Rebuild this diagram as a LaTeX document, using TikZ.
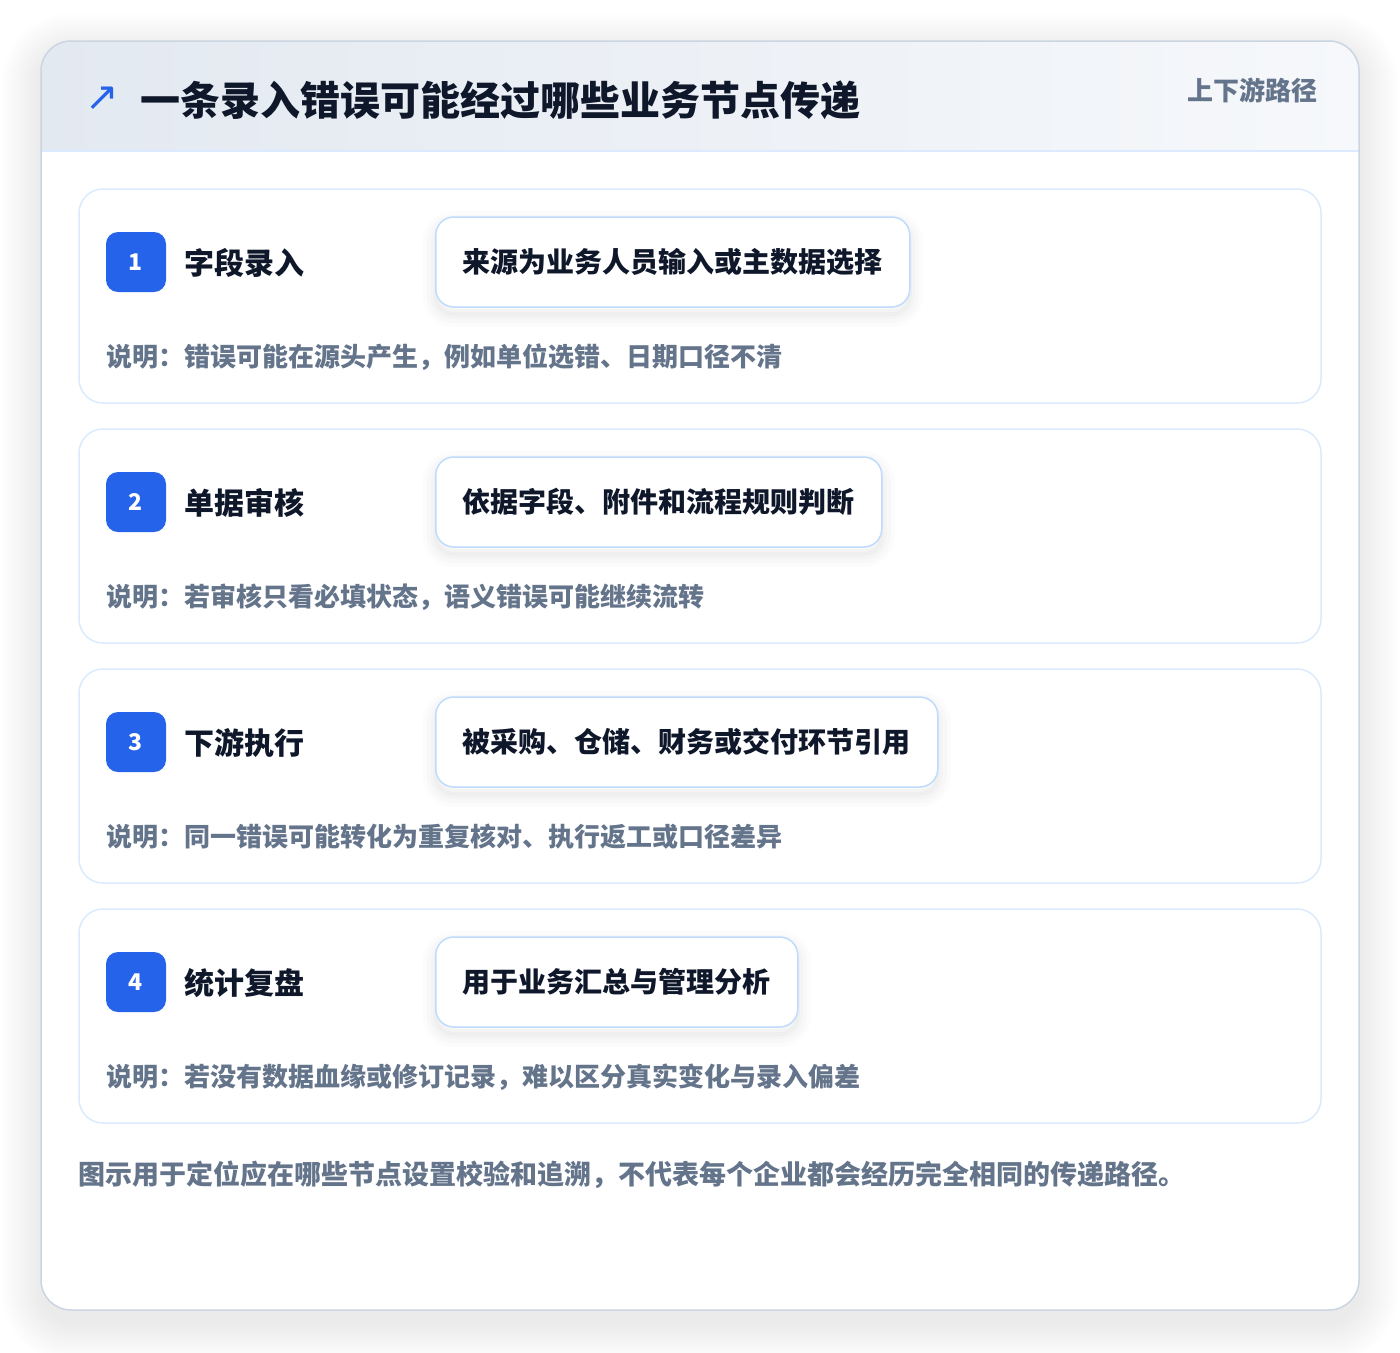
\documentclass[tikz,border=0pt]{standalone}
\usepackage{fontspec}
\setmainfont{Noto Sans CJK SC}
\newfontfamily\symb{DejaVu Sans}
\definecolor{ink}{HTML}{0F172A}
\definecolor{muted}{HTML}{64748B}
\definecolor{accent}{HTML}{2563EB}
\definecolor{cardline}{HTML}{CBD5E1}
\definecolor{stepline}{HTML}{DBEAFE}
\definecolor{srcline}{HTML}{BFDBFE}
\definecolor{bandl}{HTML}{E3E9F1}
\definecolor{bandr}{HTML}{F6F8FB}
\tikzset{
	haze/.style 2 args={preaction={draw=black, draw opacity=#2, line width=#1, transform canvas={yshift=-7pt}}},
	badge/.style={fill=accent, rounded corners=12, minimum size=60, inner sep=0, text=white, font=\fontsize{23}{23}\selectfont\bfseries},
	steplabel/.style={anchor=west, inner sep=0, text=ink, font=\fontsize{30}{30}\selectfont\bfseries},
	srcbox/.style={anchor=west, draw=srcline, line width=1.5, fill=white, rounded corners=18, minimum height=90, inner xsep=27, text=ink, font=\fontsize{28}{28}\selectfont\bfseries,
		haze={26}{0.012}, haze={18}{0.014}, haze={10}{0.016}, haze={4}{0.02}},
	notetext/.style={anchor=west, inner sep=0, text=muted, font=\fontsize{26}{26}\selectfont\bfseries},
}
\begin{document}
\begin{tikzpicture}[x=1pt, y=-1pt]
	%%%%% START %%%%%
	\useasboundingbox[fill=white] (0, 0) rectangle (1400, 1352);
	
	% outer card with soft shadow
	\foreach \i in {1,...,20}
		\fill[black, opacity=0.005, rounded corners=30+2*\i] (41-2*\i, 53-2*\i) rectangle (1359+2*\i, 1322+2*\i);
	\begin{scope}
		\clip[rounded corners=30] (41, 41) rectangle (1359, 1310);
		\fill[white] (41, 41) rectangle (1359, 1310);
		\shade[left color=bandl, right color=bandr] (41, 41) rectangle (1359, 151);
	\end{scope}
	\draw[stepline, line width=1.5] (41, 151) -- (1359, 151);
	\draw[cardline, line width=1.5, rounded corners=30] (41, 41) rectangle (1359, 1310);
	
	% header
	\node[text=accent, font=\fontsize{40}{40}\selectfont\symb] (icon) at (102, 99) {↗};
	\node[anchor=west, inner sep=0, text=ink, font=\fontsize{40}{40}\selectfont\bfseries] (title) at (140, 100) {一条录入错误可能经过哪些业务节点传递};
	\node[anchor=east, inner sep=0, text=muted, font=\fontsize{26}{26}\selectfont\bfseries] (tag) at (1318, 90) {上下游路径};
	
	% steps
	\foreach \n/\lbl/\src/\note in {
		1/字段录入/来源为业务人员输入或主数据选择/说明：错误可能在源头产生，例如单位选错、日期口径不清,
		2/单据审核/依据字段、附件和流程规则判断/说明：若审核只看必填状态，语义错误可能继续流转,
		3/下游执行/被采购、仓储、财务或交付环节引用/说明：同一错误可能转化为重复核对、执行返工或口径差异,
		4/统计复盘/用于业务汇总与管理分析/说明：若没有数据血缘或修订记录，难以区分真实变化与录入偏差}
	{
		\pgfmathsetmacro\top{189+240*(\n-1)}
		\draw[stepline, line width=1.5, fill=white, rounded corners=24] (79, \top) rectangle (1321, \top+214);
		\node[badge] (badge\n) at (136, \top+73) {\n};
		\node[steplabel] (label\n) at (184, \top+74) {\lbl};
		\node[srcbox] (src\n) at (435, \top+73) {\src};
		\node[notetext] (note\n) at (106, \top+168) {\note};
	}
	
	% footer
	\node[notetext, font=\fontsize{27}{27}\selectfont\bfseries] (foot) at (78, 1175) {图示用于定位应在哪些节点设置校验和追溯，不代表每个企业都会经历完全相同的传递路径。};
	%%%%% END %%%%%
\end{tikzpicture}
\end{document}
